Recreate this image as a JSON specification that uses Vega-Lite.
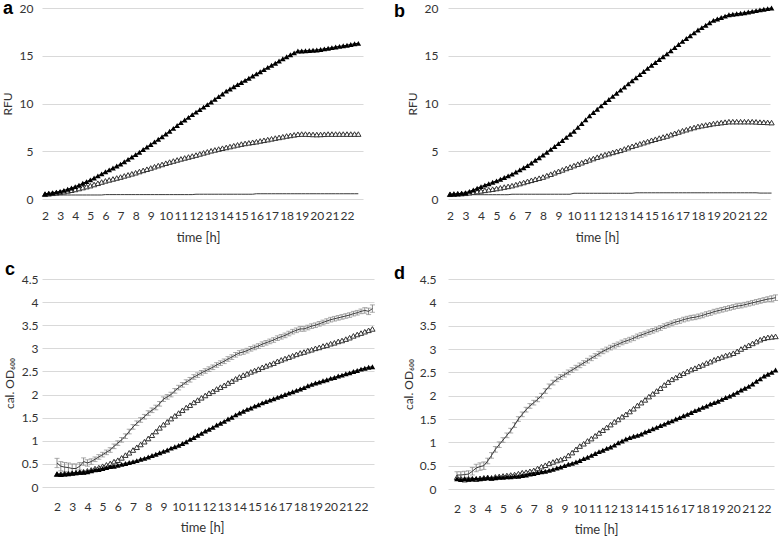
{
"$schema":"https://vega.github.io/schema/vega-lite/v6.json",
"padding":{"left":1,"top":0,"right":0,"bottom":0},
"background":"white",
"datasets":{"g":[
{"t":2,"a1":0.55,"a2":0.5,"a3":0.42,"b1":0.5,"b2":0.5,"b3":0.45,"c1":0.28,"c2":0.28,"c3":0.52,"ce":0.1,"d1":0.22,"d2":0.25,"d3":0.3,"de":0.07},
{"t":2.25,"a1":0.6,"a2":0.55,"a3":0.42,"b1":0.52,"b2":0.52,"b3":0.45,"c1":0.27,"c2":0.28,"c3":0.45,"ce":0.1,"d1":0.2,"d2":0.22,"d3":0.3,"de":0.07},
{"t":2.5,"a1":0.65,"a2":0.6,"a3":0.42,"b1":0.55,"b2":0.55,"b3":0.45,"c1":0.28,"c2":0.29,"c3":0.43,"ce":0.1,"d1":0.22,"d2":0.2,"d3":0.31,"de":0.07},
{"t":2.75,"a1":0.72,"a2":0.65,"a3":0.42,"b1":0.6,"b2":0.57,"b3":0.45,"c1":0.29,"c2":0.29,"c3":0.42,"ce":0.1,"d1":0.21,"d2":0.22,"d3":0.32,"de":0.07},
{"t":3,"a1":0.8,"a2":0.7,"a3":0.42,"b1":0.65,"b2":0.6,"b3":0.45,"c1":0.3,"c2":0.3,"c3":0.4,"ce":0.1,"d1":0.22,"d2":0.22,"d3":0.38,"de":0.08},
{"t":3.25,"a1":0.9,"a2":0.77,"a3":0.42,"b1":0.8,"b2":0.66,"b3":0.45,"c1":0.31,"c2":0.31,"c3":0.4,"ce":0.1,"d1":0.23,"d2":0.21,"d3":0.45,"de":0.08},
{"t":3.5,"a1":1.02,"a2":0.85,"a3":0.42,"b1":0.95,"b2":0.72,"b3":0.45,"c1":0.32,"c2":0.32,"c3":0.45,"ce":0.08,"d1":0.22,"d2":0.23,"d3":0.48,"de":0.08},
{"t":3.75,"a1":1.15,"a2":0.92,"a3":0.42,"b1":1.12,"b2":0.78,"b3":0.45,"c1":0.32,"c2":0.33,"c3":0.55,"ce":0.08,"d1":0.23,"d2":0.24,"d3":0.5,"de":0.08},
{"t":4,"a1":1.3,"a2":1,"a3":0.42,"b1":1.3,"b2":0.85,"b3":0.45,"c1":0.33,"c2":0.35,"c3":0.52,"ce":0.07,"d1":0.24,"d2":0.25,"d3":0.6,"de":0.06},
{"t":4.25,"a1":1.45,"a2":1.1,"a3":0.42,"b1":1.45,"b2":0.91,"b3":0.45,"c1":0.35,"c2":0.37,"c3":0.55,"ce":0.06,"d1":0.23,"d2":0.24,"d3":0.72,"de":0.06},
{"t":4.5,"a1":1.65,"a2":1.2,"a3":0.42,"b1":1.6,"b2":0.97,"b3":0.45,"c1":0.37,"c2":0.4,"c3":0.6,"ce":0.05,"d1":0.24,"d2":0.26,"d3":0.85,"de":0.06},
{"t":4.75,"a1":1.82,"a2":1.3,"a3":0.42,"b1":1.75,"b2":1.03,"b3":0.45,"c1":0.38,"c2":0.42,"c3":0.65,"ce":0.05,"d1":0.25,"d2":0.27,"d3":0.95,"de":0.06},
{"t":5,"a1":2,"a2":1.4,"a3":0.42,"b1":1.9,"b2":1.1,"b3":0.45,"c1":0.4,"c2":0.45,"c3":0.7,"ce":0.05,"d1":0.25,"d2":0.28,"d3":1.05,"de":0.05},
{"t":5.25,"a1":2.2,"a2":1.52,"a3":0.42,"b1":2.07,"b2":1.17,"b3":0.45,"c1":0.42,"c2":0.48,"c3":0.75,"ce":0.05,"d1":0.26,"d2":0.29,"d3":1.15,"de":0.05},
{"t":5.5,"a1":2.42,"a2":1.65,"a3":0.42,"b1":2.25,"b2":1.25,"b3":0.45,"c1":0.44,"c2":0.51,"c3":0.8,"ce":0.05,"d1":0.26,"d2":0.3,"d3":1.25,"de":0.05},
{"t":5.75,"a1":2.63,"a2":1.78,"a3":0.42,"b1":2.42,"b2":1.32,"b3":0.45,"c1":0.45,"c2":0.55,"c3":0.88,"ce":0.05,"d1":0.27,"d2":0.31,"d3":1.37,"de":0.05},
{"t":6,"a1":2.85,"a2":1.9,"a3":0.46,"b1":2.6,"b2":1.4,"b3":0.5,"c1":0.47,"c2":0.58,"c3":0.95,"ce":0.05,"d1":0.27,"d2":0.33,"d3":1.5,"de":0.05},
{"t":6.25,"a1":3.05,"a2":2,"a3":0.46,"b1":2.82,"b2":1.51,"b3":0.5,"c1":0.49,"c2":0.63,"c3":1.02,"ce":0.05,"d1":0.29,"d2":0.35,"d3":1.6,"de":0.05},
{"t":6.5,"a1":3.25,"a2":2.1,"a3":0.46,"b1":3.05,"b2":1.62,"b3":0.5,"c1":0.51,"c2":0.69,"c3":1.1,"ce":0.05,"d1":0.3,"d2":0.36,"d3":1.7,"de":0.05},
{"t":6.75,"a1":3.45,"a2":2.2,"a3":0.46,"b1":3.28,"b2":1.73,"b3":0.5,"c1":0.53,"c2":0.74,"c3":1.2,"ce":0.05,"d1":0.32,"d2":0.38,"d3":1.78,"de":0.05},
{"t":7,"a1":3.65,"a2":2.3,"a3":0.46,"b1":3.5,"b2":1.85,"b3":0.5,"c1":0.55,"c2":0.8,"c3":1.3,"ce":0.05,"d1":0.33,"d2":0.4,"d3":1.85,"de":0.05},
{"t":7.25,"a1":3.9,"a2":2.42,"a3":0.46,"b1":3.77,"b2":1.96,"b3":0.5,"c1":0.57,"c2":0.86,"c3":1.38,"ce":0.05,"d1":0.35,"d2":0.44,"d3":1.92,"de":0.05},
{"t":7.5,"a1":4.15,"a2":2.53,"a3":0.46,"b1":4.05,"b2":2.07,"b3":0.5,"c1":0.6,"c2":0.92,"c3":1.45,"ce":0.05,"d1":0.37,"d2":0.48,"d3":2,"de":0.05},
{"t":7.75,"a1":4.4,"a2":2.64,"a3":0.46,"b1":4.32,"b2":2.18,"b3":0.5,"c1":0.62,"c2":0.98,"c3":1.52,"ce":0.05,"d1":0.38,"d2":0.51,"d3":2.1,"de":0.05},
{"t":8,"a1":4.65,"a2":2.75,"a3":0.46,"b1":4.6,"b2":2.3,"b3":0.5,"c1":0.65,"c2":1.05,"c3":1.6,"ce":0.05,"d1":0.4,"d2":0.55,"d3":2.2,"de":0.05},
{"t":8.25,"a1":4.9,"a2":2.88,"a3":0.46,"b1":4.9,"b2":2.45,"b3":0.5,"c1":0.68,"c2":1.12,"c3":1.66,"ce":0.05,"d1":0.42,"d2":0.58,"d3":2.28,"de":0.05},
{"t":8.5,"a1":5.18,"a2":3,"a3":0.46,"b1":5.2,"b2":2.6,"b3":0.5,"c1":0.71,"c2":1.2,"c3":1.72,"ce":0.05,"d1":0.45,"d2":0.61,"d3":2.35,"de":0.05},
{"t":8.75,"a1":5.44,"a2":3.12,"a3":0.46,"b1":5.5,"b2":2.75,"b3":0.5,"c1":0.74,"c2":1.28,"c3":1.8,"ce":0.05,"d1":0.47,"d2":0.63,"d3":2.4,"de":0.05},
{"t":9,"a1":5.7,"a2":3.25,"a3":0.46,"b1":5.8,"b2":2.9,"b3":0.5,"c1":0.77,"c2":1.35,"c3":1.9,"ce":0.05,"d1":0.5,"d2":0.66,"d3":2.45,"de":0.05},
{"t":9.25,"a1":5.98,"a2":3.38,"a3":0.46,"b1":6.12,"b2":3.05,"b3":0.5,"c1":0.8,"c2":1.41,"c3":1.95,"ce":0.05,"d1":0.53,"d2":0.72,"d3":2.5,"de":0.05},
{"t":9.5,"a1":6.25,"a2":3.5,"a3":0.46,"b1":6.45,"b2":3.2,"b3":0.5,"c1":0.84,"c2":1.48,"c3":2,"ce":0.05,"d1":0.55,"d2":0.78,"d3":2.55,"de":0.05},
{"t":9.75,"a1":6.52,"a2":3.62,"a3":0.46,"b1":6.78,"b2":3.35,"b3":0.5,"c1":0.87,"c2":1.54,"c3":2.08,"ce":0.05,"d1":0.58,"d2":0.85,"d3":2.6,"de":0.05},
{"t":10,"a1":6.8,"a2":3.75,"a3":0.46,"b1":7.1,"b2":3.5,"b3":0.6,"c1":0.9,"c2":1.6,"c3":2.15,"ce":0.05,"d1":0.61,"d2":0.92,"d3":2.65,"de":0.05},
{"t":10.25,"a1":7.1,"a2":3.87,"a3":0.46,"b1":7.5,"b2":3.65,"b3":0.6,"c1":0.94,"c2":1.66,"c3":2.21,"ce":0.05,"d1":0.65,"d2":0.97,"d3":2.7,"de":0.05},
{"t":10.5,"a1":7.4,"a2":3.98,"a3":0.46,"b1":7.9,"b2":3.8,"b3":0.6,"c1":0.98,"c2":1.72,"c3":2.27,"ce":0.05,"d1":0.68,"d2":1.03,"d3":2.75,"de":0.05},
{"t":10.75,"a1":7.7,"a2":4.09,"a3":0.46,"b1":8.3,"b2":3.95,"b3":0.6,"c1":1.03,"c2":1.77,"c3":2.32,"ce":0.05,"d1":0.72,"d2":1.08,"d3":2.8,"de":0.05},
{"t":11,"a1":8,"a2":4.2,"a3":0.46,"b1":8.7,"b2":4.1,"b3":0.6,"c1":1.07,"c2":1.83,"c3":2.38,"ce":0.05,"d1":0.76,"d2":1.14,"d3":2.85,"de":0.05},
{"t":11.25,"a1":8.28,"a2":4.3,"a3":0.46,"b1":9.05,"b2":4.24,"b3":0.6,"c1":1.12,"c2":1.88,"c3":2.42,"ce":0.05,"d1":0.8,"d2":1.2,"d3":2.9,"de":0.05},
{"t":11.5,"a1":8.55,"a2":4.4,"a3":0.46,"b1":9.4,"b2":4.38,"b3":0.6,"c1":1.16,"c2":1.93,"c3":2.47,"ce":0.05,"d1":0.83,"d2":1.26,"d3":2.95,"de":0.05},
{"t":11.75,"a1":8.83,"a2":4.5,"a3":0.46,"b1":9.75,"b2":4.52,"b3":0.6,"c1":1.21,"c2":1.98,"c3":2.51,"ce":0.05,"d1":0.87,"d2":1.32,"d3":2.99,"de":0.05},
{"t":12,"a1":9.1,"a2":4.6,"a3":0.5,"b1":10.1,"b2":4.65,"b3":0.6,"c1":1.25,"c2":2.03,"c3":2.55,"ce":0.05,"d1":0.9,"d2":1.38,"d3":3.03,"de":0.05},
{"t":12.25,"a1":9.36,"a2":4.72,"a3":0.5,"b1":10.42,"b2":4.76,"b3":0.6,"c1":1.29,"c2":2.07,"c3":2.59,"ce":0.05,"d1":0.94,"d2":1.44,"d3":3.07,"de":0.05},
{"t":12.5,"a1":9.62,"a2":4.83,"a3":0.5,"b1":10.75,"b2":4.88,"b3":0.6,"c1":1.34,"c2":2.12,"c3":2.64,"ce":0.05,"d1":0.99,"d2":1.49,"d3":3.1,"de":0.05},
{"t":12.75,"a1":9.88,"a2":4.94,"a3":0.5,"b1":11.08,"b2":4.99,"b3":0.6,"c1":1.38,"c2":2.16,"c3":2.68,"ce":0.05,"d1":1.03,"d2":1.55,"d3":3.14,"de":0.05},
{"t":13,"a1":10.15,"a2":5.05,"a3":0.5,"b1":11.4,"b2":5.1,"b3":0.6,"c1":1.42,"c2":2.2,"c3":2.72,"ce":0.05,"d1":1.07,"d2":1.6,"d3":3.17,"de":0.05},
{"t":13.25,"a1":10.44,"a2":5.14,"a3":0.5,"b1":11.72,"b2":5.24,"b3":0.6,"c1":1.47,"c2":2.25,"c3":2.77,"ce":0.05,"d1":1.1,"d2":1.66,"d3":3.2,"de":0.05},
{"t":13.5,"a1":10.72,"a2":5.23,"a3":0.5,"b1":12.05,"b2":5.38,"b3":0.6,"c1":1.51,"c2":2.29,"c3":2.81,"ce":0.05,"d1":1.13,"d2":1.72,"d3":3.23,"de":0.05},
{"t":13.75,"a1":11,"a2":5.32,"a3":0.5,"b1":12.38,"b2":5.52,"b3":0.6,"c1":1.56,"c2":2.34,"c3":2.86,"ce":0.05,"d1":1.15,"d2":1.79,"d3":3.27,"de":0.05},
{"t":14,"a1":11.3,"a2":5.4,"a3":0.5,"b1":12.7,"b2":5.65,"b3":0.65,"c1":1.6,"c2":2.38,"c3":2.9,"ce":0.05,"d1":1.18,"d2":1.85,"d3":3.3,"de":0.05},
{"t":14.25,"a1":11.52,"a2":5.49,"a3":0.5,"b1":13.02,"b2":5.78,"b3":0.65,"c1":1.64,"c2":2.42,"c3":2.92,"ce":0.05,"d1":1.22,"d2":1.91,"d3":3.33,"de":0.05},
{"t":14.5,"a1":11.75,"a2":5.58,"a3":0.5,"b1":13.35,"b2":5.9,"b3":0.65,"c1":1.68,"c2":2.45,"c3":2.95,"ce":0.05,"d1":1.25,"d2":1.98,"d3":3.36,"de":0.05},
{"t":14.75,"a1":11.98,"a2":5.67,"a3":0.5,"b1":13.68,"b2":6.02,"b3":0.65,"c1":1.71,"c2":2.49,"c3":2.99,"ce":0.05,"d1":1.29,"d2":2.04,"d3":3.39,"de":0.05},
{"t":15,"a1":12.2,"a2":5.75,"a3":0.5,"b1":14,"b2":6.15,"b3":0.65,"c1":1.75,"c2":2.52,"c3":3.02,"ce":0.05,"d1":1.32,"d2":2.1,"d3":3.42,"de":0.05},
{"t":15.25,"a1":12.42,"a2":5.82,"a3":0.5,"b1":14.3,"b2":6.26,"b3":0.65,"c1":1.78,"c2":2.55,"c3":3.05,"ce":0.05,"d1":1.36,"d2":2.16,"d3":3.45,"de":0.05},
{"t":15.5,"a1":12.65,"a2":5.88,"a3":0.5,"b1":14.6,"b2":6.38,"b3":0.65,"c1":1.82,"c2":2.59,"c3":3.09,"ce":0.05,"d1":1.39,"d2":2.23,"d3":3.49,"de":0.05},
{"t":15.75,"a1":12.88,"a2":5.94,"a3":0.5,"b1":14.9,"b2":6.49,"b3":0.65,"c1":1.85,"c2":2.62,"c3":3.12,"ce":0.05,"d1":1.43,"d2":2.29,"d3":3.52,"de":0.05},
{"t":16,"a1":13.1,"a2":6,"a3":0.55,"b1":15.2,"b2":6.6,"b3":0.65,"c1":1.88,"c2":2.65,"c3":3.15,"ce":0.05,"d1":1.46,"d2":2.35,"d3":3.55,"de":0.05},
{"t":16.25,"a1":13.32,"a2":6.08,"a3":0.55,"b1":15.52,"b2":6.74,"b3":0.65,"c1":1.91,"c2":2.68,"c3":3.18,"ce":0.05,"d1":1.5,"d2":2.39,"d3":3.58,"de":0.05},
{"t":16.5,"a1":13.55,"a2":6.15,"a3":0.55,"b1":15.85,"b2":6.88,"b3":0.65,"c1":1.94,"c2":2.72,"c3":3.22,"ce":0.05,"d1":1.53,"d2":2.44,"d3":3.6,"de":0.05},
{"t":16.75,"a1":13.78,"a2":6.22,"a3":0.55,"b1":16.18,"b2":7.02,"b3":0.65,"c1":1.97,"c2":2.75,"c3":3.25,"ce":0.05,"d1":1.57,"d2":2.48,"d3":3.63,"de":0.05},
{"t":17,"a1":14,"a2":6.3,"a3":0.55,"b1":16.5,"b2":7.15,"b3":0.65,"c1":2,"c2":2.78,"c3":3.28,"ce":0.05,"d1":1.6,"d2":2.52,"d3":3.65,"de":0.05},
{"t":17.25,"a1":14.22,"a2":6.38,"a3":0.55,"b1":16.8,"b2":7.26,"b3":0.65,"c1":2.03,"c2":2.81,"c3":3.32,"ce":0.05,"d1":1.64,"d2":2.56,"d3":3.67,"de":0.05},
{"t":17.5,"a1":14.45,"a2":6.45,"a3":0.55,"b1":17.1,"b2":7.38,"b3":0.65,"c1":2.06,"c2":2.84,"c3":3.36,"ce":0.05,"d1":1.68,"d2":2.59,"d3":3.68,"de":0.05},
{"t":17.75,"a1":14.68,"a2":6.52,"a3":0.55,"b1":17.4,"b2":7.49,"b3":0.65,"c1":2.09,"c2":2.87,"c3":3.39,"ce":0.05,"d1":1.71,"d2":2.63,"d3":3.7,"de":0.05},
{"t":18,"a1":14.9,"a2":6.6,"a3":0.55,"b1":17.7,"b2":7.6,"b3":0.65,"c1":2.12,"c2":2.9,"c3":3.42,"ce":0.05,"d1":1.75,"d2":2.66,"d3":3.72,"de":0.05},
{"t":18.25,"a1":15.1,"a2":6.66,"a3":0.55,"b1":17.95,"b2":7.68,"b3":0.65,"c1":2.15,"c2":2.92,"c3":3.42,"ce":0.05,"d1":1.78,"d2":2.7,"d3":3.75,"de":0.05},
{"t":18.5,"a1":15.3,"a2":6.72,"a3":0.55,"b1":18.2,"b2":7.75,"b3":0.65,"c1":2.19,"c2":2.95,"c3":3.45,"ce":0.05,"d1":1.82,"d2":2.73,"d3":3.77,"de":0.05},
{"t":18.75,"a1":15.5,"a2":6.78,"a3":0.55,"b1":18.45,"b2":7.82,"b3":0.65,"c1":2.22,"c2":2.97,"c3":3.48,"ce":0.05,"d1":1.85,"d2":2.77,"d3":3.8,"de":0.05},
{"t":19,"a1":15.5,"a2":6.8,"a3":0.55,"b1":18.7,"b2":7.9,"b3":0.65,"c1":2.25,"c2":3,"c3":3.5,"ce":0.05,"d1":1.88,"d2":2.8,"d3":3.82,"de":0.05},
{"t":19.25,"a1":15.52,"a2":6.8,"a3":0.55,"b1":18.85,"b2":7.95,"b3":0.65,"c1":2.27,"c2":3.02,"c3":3.53,"ce":0.05,"d1":1.92,"d2":2.83,"d3":3.84,"de":0.05},
{"t":19.5,"a1":15.55,"a2":6.78,"a3":0.55,"b1":19,"b2":8,"b3":0.65,"c1":2.3,"c2":3.05,"c3":3.56,"ce":0.05,"d1":1.96,"d2":2.86,"d3":3.86,"de":0.05},
{"t":19.75,"a1":15.58,"a2":6.76,"a3":0.55,"b1":19.15,"b2":8.05,"b3":0.65,"c1":2.32,"c2":3.07,"c3":3.59,"ce":0.05,"d1":1.99,"d2":2.88,"d3":3.88,"de":0.05},
{"t":20,"a1":15.6,"a2":6.75,"a3":0.55,"b1":19.3,"b2":8.1,"b3":0.65,"c1":2.35,"c2":3.1,"c3":3.62,"ce":0.05,"d1":2.03,"d2":2.91,"d3":3.9,"de":0.05},
{"t":20.25,"a1":15.66,"a2":6.76,"a3":0.55,"b1":19.35,"b2":8.1,"b3":0.65,"c1":2.37,"c2":3.12,"c3":3.64,"ce":0.05,"d1":2.07,"d2":2.95,"d3":3.92,"de":0.05},
{"t":20.5,"a1":15.72,"a2":6.78,"a3":0.55,"b1":19.4,"b2":8.1,"b3":0.65,"c1":2.4,"c2":3.15,"c3":3.66,"ce":0.05,"d1":2.12,"d2":3,"d3":3.93,"de":0.05},
{"t":20.75,"a1":15.78,"a2":6.8,"a3":0.55,"b1":19.45,"b2":8.1,"b3":0.65,"c1":2.42,"c2":3.17,"c3":3.68,"ce":0.05,"d1":2.16,"d2":3.04,"d3":3.95,"de":0.05},
{"t":21,"a1":15.85,"a2":6.8,"a3":0.55,"b1":19.5,"b2":8.1,"b3":0.65,"c1":2.45,"c2":3.2,"c3":3.7,"ce":0.05,"d1":2.2,"d2":3.08,"d3":3.97,"de":0.05},
{"t":21.25,"a1":15.92,"a2":6.8,"a3":0.55,"b1":19.58,"b2":8.1,"b3":0.65,"c1":2.47,"c2":3.23,"c3":3.72,"ce":0.05,"d1":2.25,"d2":3.12,"d3":3.99,"de":0.05},
{"t":21.5,"a1":15.98,"a2":6.8,"a3":0.55,"b1":19.65,"b2":8.1,"b3":0.65,"c1":2.5,"c2":3.27,"c3":3.75,"ce":0.05,"d1":2.31,"d2":3.16,"d3":4.01,"de":0.05},
{"t":21.75,"a1":16.04,"a2":6.8,"a3":0.55,"b1":19.72,"b2":8.08,"b3":0.65,"c1":2.52,"c2":3.3,"c3":3.77,"ce":0.05,"d1":2.36,"d2":3.2,"d3":4.03,"de":0.05},
{"t":22,"a1":16.1,"a2":6.8,"a3":0.55,"b1":19.8,"b2":8.05,"b3":0.62,"c1":2.55,"c2":3.33,"c3":3.8,"ce":0.05,"d1":2.42,"d2":3.23,"d3":4.05,"de":0.05},
{"t":22.25,"a1":16.18,"a2":6.8,"a3":0.55,"b1":19.87,"b2":8.04,"b3":0.62,"c1":2.57,"c2":3.36,"c3":3.82,"ce":0.06,"d1":2.46,"d2":3.25,"d3":4.07,"de":0.05},
{"t":22.5,"a1":16.25,"a2":6.8,"a3":0.55,"b1":19.93,"b2":8.02,"b3":0.62,"c1":2.59,"c2":3.39,"c3":3.8,"ce":0.07,"d1":2.5,"d2":3.26,"d3":4.08,"de":0.06},
{"t":22.75,"a1":16.3,"a2":6.8,"a3":0.55,"b1":20,"b2":8,"b3":0.62,"c1":2.6,"c2":3.42,"c3":3.86,"ce":0.08,"d1":2.55,"d2":3.27,"d3":4.1,"de":0.06}
]},
"config":{
 "view":{"stroke":null},
 "font":"Lato",
 "axis":{"labelFont":"Lato","labelFontSize":12,"labelColor":"#333","titleFont":"Lato","titleFontWeight":"normal","titleColor":"#333","ticks":false,"domain":false},
 "axisX":{"grid":false,"labelOverlap":false,"labelFlush":false,"labelPadding":11,"titlePadding":10,"titleFontSize":13},
 "axisY":{"gridColor":"#d9d9d9","gridWidth":1,"labelPadding":9,"titlePadding":5,"titleFontSize":12},
 "title":{"font":"Liberation Sans","fontSize":18,"fontWeight":"bold","anchor":"start","color":"#000","offset":0,"frame":"group","baseline":"alphabetic"}
},
"concat":[
  {"width":321,"height":191,"title":{"text":"a","dx":-39,"dy":20},
   "data":{"name":"g"},
   "transform":[{"fold":["a1","a2","a3"],"as":["s","y"]}],
   "encoding":{
    "x":{"field":"t","type":"quantitative","scale":{"domain":[1.8,23.06],"nice":false,"zero":false},"axis":{"title":"time [h]","titleX":156,"values":[2,3,4,5,6,7,8,9,10,11,12,13,14,15,16,17,18,19,20,21,22]}},
    "y":{"field":"y","type":"quantitative","scale":{"domain":[0,20],"nice":false},"axis":{"title":"RFU","values":[0,5,10,15,20]}}},
   "layer":[
    {"transform":[{"filter":"datum.s != 'a1'"}],"mark":{"type":"line","color":"#3a3a3a","strokeWidth":1},"encoding":{"detail":{"field":"s"}}},
    {"transform":[{"filter":"datum.s == 'a2'"}],"mark":{"type":"point","shape":"triangle-up","filled":true,"fill":"white","stroke":"#333","strokeWidth":1,"size":28,"opacity":1}},
    {"transform":[{"filter":"datum.s == 'a1'"}],"mark":{"type":"line","color":"black","strokeWidth":1}},
    {"transform":[{"filter":"datum.s == 'a1'"}],"mark":{"type":"point","shape":"triangle-up","filled":true,"color":"black","size":32,"opacity":1}}
   ]},
  {"width":322,"height":191,"title":{"text":"b","dx":-54,"dy":23},
   "data":{"name":"g"},
   "transform":[{"fold":["b1","b2","b3"],"as":["s","y"]}],
   "encoding":{
    "x":{"field":"t","type":"quantitative","scale":{"domain":[1.87,22.65],"nice":false,"zero":false},"axis":{"title":"time [h]","titleX":149,"values":[2,3,4,5,6,7,8,9,10,11,12,13,14,15,16,17,18,19,20,21,22]}},
    "y":{"field":"y","type":"quantitative","scale":{"domain":[0,20],"nice":false},"axis":{"title":"RFU","labelPadding":10,"values":[0,5,10,15,20]}}},
   "layer":[
    {"transform":[{"filter":"datum.s != 'b1'"}],"mark":{"type":"line","color":"#3a3a3a","strokeWidth":1},"encoding":{"detail":{"field":"s"}}},
    {"transform":[{"filter":"datum.s == 'b2'"}],"mark":{"type":"point","shape":"triangle-up","filled":true,"fill":"white","stroke":"#333","strokeWidth":1,"size":28,"opacity":1}},
    {"transform":[{"filter":"datum.s == 'b1'"}],"mark":{"type":"line","color":"black","strokeWidth":1}},
    {"transform":[{"filter":"datum.s == 'b1'"}],"mark":{"type":"point","shape":"triangle-up","filled":true,"color":"black","size":32,"opacity":1}}
   ]},
  {"width":332,"height":208,"title":{"text":"c","dx":-37,"dy":10},
   "data":{"name":"g"},
   "transform":[{"fold":["c1","c2","c3"],"as":["s","y"]}],
   "encoding":{
    "x":{"field":"t","type":"quantitative","scale":{"domain":[1.013,22.855],"nice":false,"zero":false},"axis":{"title":"time [h]","titleX":160,"labelPadding":14,"titlePadding":9,"values":[2,3,4,5,6,7,8,9,10,11,12,13,14,15,16,17,18,19,20,21,22]}},
    "y":{"field":"y","type":"quantitative","scale":{"domain":[0,4.5],"nice":false},"axis":{"title":"cal. OD₆₀₀","labelPadding":4,"titlePadding":5,"values":[0,0.5,1,1.5,2,2.5,3,3.5,4,4.5],"format":"~g"}}},
   "layer":[
    {"transform":[{"filter":"datum.s == 'c3'"}],"mark":{"type":"errorbar","ticks":{"size":5},"color":"#8a8a8a","thickness":1},"encoding":{"yError":{"field":"ce"}}},
    {"transform":[{"filter":"datum.s != 'c1'"}],"mark":{"type":"line","color":"#3a3a3a","strokeWidth":1},"encoding":{"detail":{"field":"s"}}},
    {"transform":[{"filter":"datum.s == 'c2'"}],"mark":{"type":"point","shape":"triangle-up","filled":true,"fill":"white","stroke":"#333","strokeWidth":1,"size":28,"opacity":1}},
    {"transform":[{"filter":"datum.s == 'c1'"}],"mark":{"type":"line","color":"black","strokeWidth":1}},
    {"transform":[{"filter":"datum.s == 'c1'"}],"mark":{"type":"point","shape":"triangle-up","filled":true,"color":"black","size":32,"opacity":1}}
   ]},
  {"width":326,"height":210,"title":{"text":"d","dx":-54,"dy":14},
   "data":{"name":"g"},
   "transform":[{"fold":["d1","d2","d3"],"as":["s","y"]}],
   "encoding":{
    "x":{"field":"t","type":"quantitative","scale":{"domain":[1.414,22.65],"nice":false,"zero":false},"axis":{"title":"time [h]","titleX":148,"labelPadding":14,"titlePadding":9,"values":[2,3,4,5,6,7,8,9,10,11,12,13,14,15,16,17,18,19,20,21,22]}},
    "y":{"field":"y","type":"quantitative","scale":{"domain":[0,4.5],"nice":false},"axis":{"title":"cal. OD₆₀₀","labelPadding":12,"titlePadding":4,"values":[0,0.5,1,1.5,2,2.5,3,3.5,4,4.5],"format":"~g"}}},
   "layer":[
    {"transform":[{"filter":"datum.s == 'd3'"}],"mark":{"type":"errorbar","ticks":{"size":5},"color":"#8a8a8a","thickness":1},"encoding":{"yError":{"field":"de"}}},
    {"transform":[{"filter":"datum.s != 'd1'"}],"mark":{"type":"line","color":"#3a3a3a","strokeWidth":1},"encoding":{"detail":{"field":"s"}}},
    {"transform":[{"filter":"datum.s == 'd2'"}],"mark":{"type":"point","shape":"triangle-up","filled":true,"fill":"white","stroke":"#333","strokeWidth":1,"size":28,"opacity":1}},
    {"transform":[{"filter":"datum.s == 'd1'"}],"mark":{"type":"line","color":"black","strokeWidth":1}},
    {"transform":[{"filter":"datum.s == 'd1'"}],"mark":{"type":"point","shape":"triangle-up","filled":true,"color":"black","size":32,"opacity":1}}
   ]}
],
"columns":2,
"align":"each",
"spacing":{"row":17,"column":16}
}
